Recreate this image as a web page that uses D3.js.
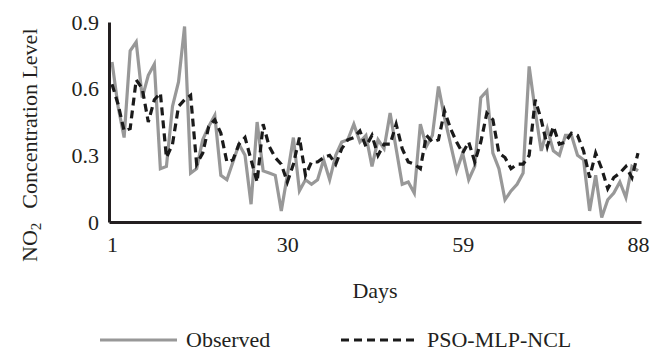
<!DOCTYPE html>
<html>
<head>
<meta charset="utf-8">
<script src="https://cdn.jsdelivr.net/npm/d3@7"></script>
<style>
  body { margin: 0; background: #fff; }
</style>
</head>
<body>
<div id="chart"></div>
<script>
// Daily NO2 concentration, days 1..88
const observed = [
  0.72, 0.52, 0.38, 0.77, 0.81, 0.56, 0.66, 0.71, 0.24, 0.25,
  0.52, 0.63, 0.88, 0.22, 0.24, 0.37, 0.43, 0.48, 0.21, 0.19,
  0.27, 0.35, 0.30, 0.08, 0.45, 0.23, 0.22, 0.21, 0.05, 0.21,
  0.38, 0.14, 0.19, 0.17, 0.19, 0.28, 0.19, 0.30, 0.36, 0.37,
  0.44, 0.36, 0.39, 0.25, 0.37, 0.33, 0.49, 0.33, 0.17, 0.18,
  0.13, 0.44, 0.34, 0.39, 0.61, 0.47, 0.35, 0.23, 0.31, 0.19,
  0.25, 0.56, 0.59, 0.31, 0.24, 0.10, 0.14, 0.17, 0.22, 0.70,
  0.50, 0.32, 0.42, 0.32, 0.30, 0.39, 0.39, 0.30, 0.28, 0.05,
  0.21, 0.02, 0.10, 0.13, 0.18, 0.11, 0.25, 0.23
];
const predicted = [
  0.62, 0.53, 0.41, 0.42, 0.64, 0.60, 0.45, 0.55, 0.58, 0.29,
  0.35, 0.52, 0.55, 0.57, 0.26, 0.31, 0.43, 0.46, 0.40, 0.27,
  0.28, 0.35, 0.38, 0.28, 0.18, 0.44, 0.34, 0.29, 0.26, 0.18,
  0.26, 0.38, 0.21, 0.27, 0.27, 0.29, 0.30, 0.26, 0.33, 0.37,
  0.38, 0.41, 0.34, 0.39, 0.30, 0.35, 0.35, 0.44, 0.33, 0.27,
  0.26, 0.24, 0.39, 0.36, 0.37, 0.50, 0.42, 0.36, 0.31, 0.36,
  0.27, 0.36, 0.49, 0.46, 0.31, 0.29, 0.24, 0.26, 0.26, 0.30,
  0.55, 0.46, 0.34, 0.43, 0.35, 0.36, 0.40, 0.39, 0.32, 0.20,
  0.31, 0.24, 0.15, 0.20, 0.22, 0.25, 0.20, 0.31
];
const xTicks = [1, 30, 59, 88];
const yTicks = [0, 0.3, 0.6, 0.9];
const yTickLabels = ["0", "0.3", "0.6", "0.9"];
const seriesNames = ["Observed", "PSO-MLP-NCL"];

const font = "'Liberation Serif', 'Times New Roman', Times, serif";
const ink = "#231f20";

const width = 650, height = 352;
const svg = d3.select("#chart").append("svg")
    .attr("width", width)
    .attr("height", height)
    .attr("font-family", font);

const x = d3.scaleLinear().domain([0.5, 88.5]).range([109, 641]);
const y = d3.scaleLinear().domain([0, 0.9]).range([222, 22]);

const line = d3.line()
    .x((d, i) => x(i + 1))
    .y(d => y(d));

// Observed series (gray solid)
svg.append("path")
    .datum(observed)
    .attr("fill", "none")
    .attr("stroke", "#989898")
    .attr("stroke-width", 3.2)
    .attr("d", line);

// Model series (black dashed)
svg.append("path")
    .datum(predicted)
    .attr("fill", "none")
    .attr("stroke", "#1a1a1a")
    .attr("stroke-width", 3.2)
    .attr("stroke-dasharray", "8,5")
    .attr("d", line);

// Axes
const xAxis = d3.axisBottom(x)
    .tickValues(xTicks)
    .tickSize(0)
    .tickPadding(14)
    .tickFormat(d3.format("d"));

const yAxis = d3.axisLeft(y)
    .tickValues(yTicks)
    .tickSize(0)
    .tickPadding(10)
    .tickFormat((d, i) => yTickLabels[i]);

const gx = svg.append("g")
    .attr("transform", `translate(0,${y(0)})`)
    .call(xAxis);
const gy = svg.append("g")
    .attr("transform", `translate(${x.range()[0]},0)`)
    .call(yAxis);

[gx, gy].forEach(g => {
    g.attr("font-family", font).attr("font-size", 22);
    g.select(".domain").attr("stroke", ink).attr("stroke-width", 3);
    g.selectAll("text").attr("fill", ink);
});

// Axis titles
svg.append("text")
    .attr("x", 375)
    .attr("y", 298)
    .attr("text-anchor", "middle")
    .attr("font-size", 22)
    .attr("fill", ink)
    .text("Days");

const yTitle = svg.append("text")
    .attr("transform", "translate(37,262) rotate(-90)")
    .attr("font-size", 22)
    .attr("fill", ink);
yTitle.append("tspan").text("NO");
yTitle.append("tspan").attr("font-size", 15).attr("dy", 4).text("2");
yTitle.append("tspan").attr("dy", -4).attr("dx", 14).text("Concentration Level");

// Legend
const legendY = 340;
const legend = [
  {name: seriesNames[0], x0: 100, x1: 177, tx: 186, stroke: "#989898", dash: null},
  {name: seriesNames[1], x0: 341, x1: 419, tx: 427, stroke: "#1a1a1a", dash: "8,5"}
];
legend.forEach(l => {
    svg.append("line")
        .attr("x1", l.x0).attr("x2", l.x1)
        .attr("y1", legendY).attr("y2", legendY)
        .attr("stroke", l.stroke)
        .attr("stroke-width", 3.2)
        .attr("stroke-dasharray", l.dash);
    svg.append("text")
        .attr("x", l.tx)
        .attr("y", legendY + 7)
        .attr("font-size", 22)
        .attr("fill", ink)
        .text(l.name);
});
</script>
</body>
</html>
